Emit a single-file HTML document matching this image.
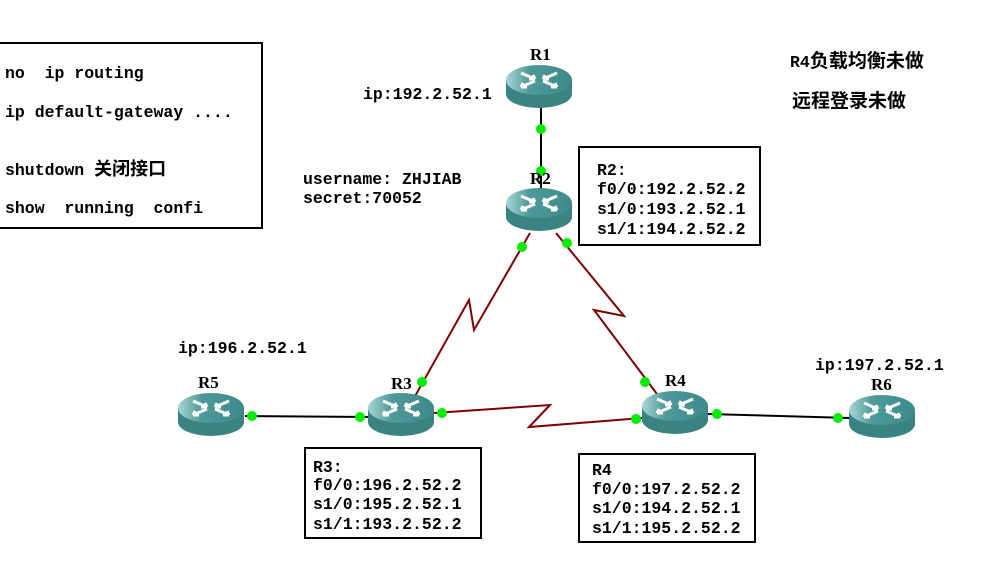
<!DOCTYPE html>
<html><head><meta charset="utf-8"><style>
body{margin:0;background:#fff;width:986px;height:559px;overflow:hidden}
svg text{font-family:"Liberation Mono","Noto Sans CJK SC",monospace;font-size:16.5px;font-weight:bold;fill:#000;white-space:pre}
svg text.r{font-family:"Liberation Serif",serif;font-size:17px}
</style></head><body>
<svg width="986" height="559" viewBox="0 0 986 559" xmlns="http://www.w3.org/2000/svg">
<defs>
<linearGradient id="tg" x1="0" y1="0" x2="1" y2="0">
<stop offset="0" stop-color="#a9d6d6"/><stop offset="0.35" stop-color="#4e9a9a"/><stop offset="1" stop-color="#3e8a8a"/>
</linearGradient>
<g id="rt">
<path d="M-33,0 L-33,14 A33,14 0 0 0 33,14 L33,0 Z" fill="#3a8383"/>
<ellipse cx="0" cy="0" rx="33" ry="15" fill="url(#tg)"/>
<g stroke="#fff" stroke-width="3" fill="none">
<path d="M-18,-7 L-4,-1 M-4,-1 l-6,0 M-4,-1 l-2,-4"/>
<path d="M18,-7 L4,-1 M4,-1 l6,0 M4,-1 l2,-4"/>
<path d="M-18,7 L-4,1 M-18,7 l6,0 M-18,7 l2,-4"/>
<path d="M18,7 L4,1 M18,7 l-6,0 M18,7 l-2,-4"/>
</g>
</g>
</defs>
<g stroke="#000" stroke-width="2">
<line x1="541" y1="105" x2="541" y2="195"/>
<line x1="245" y1="416" x2="370" y2="417"/>
<line x1="708" y1="414" x2="850" y2="418"/>
</g>
<g stroke="#800000" stroke-width="2" fill="none">
<polyline points="414,398 469,300 474,330 530,233"/>
<polyline points="556,233 624,316 594,310 660,398"/>
<polyline points="434,413 550,405 529,427 642,418"/>
</g>
<use href="#rt" x="539" y="80"/>
<use href="#rt" x="539" y="203"/>
<use href="#rt" x="211" y="408"/>
<use href="#rt" x="401" y="408"/>
<use href="#rt" x="675" y="406"/>
<use href="#rt" x="882" y="410"/>
<g fill="#00ee00">
<circle cx="541" cy="129" r="5"/><circle cx="541" cy="171" r="5"/>
<circle cx="522" cy="247" r="5"/><circle cx="567" cy="243" r="5"/>
<circle cx="422" cy="382" r="5"/><circle cx="645" cy="382" r="5"/>
<circle cx="442" cy="413" r="5"/><circle cx="636" cy="419" r="5"/>
<circle cx="252" cy="416" r="5"/><circle cx="360" cy="417" r="5"/>
<circle cx="717" cy="414" r="5"/><circle cx="838" cy="418" r="5"/>
</g>
<text class="r" x="530" y="60">R1</text>
<text class="r" x="530" y="184">R2</text>
<text class="r" x="198" y="388">R5</text>
<text class="r" x="391" y="389">R3</text>
<text class="r" x="665" y="386">R4</text>
<text class="r" x="871" y="390">R6</text>
<g fill="none" stroke="#000" stroke-width="2">
<rect x="-2" y="43" width="264" height="185"/>
<rect x="579" y="147" width="181" height="98"/>
<rect x="305" y="448" width="176" height="90"/>
<rect x="579" y="454" width="176" height="88"/>
</g>
<text x="5" y="78">no  ip routing</text>
<text x="5" y="117">ip default-gateway ....</text>
<text x="5" y="175">shutdown <tspan style="font-size:18px">关闭接口</tspan></text>
<text x="5" y="213">show  running  confi</text>
<text x="597" y="175">R2:</text>
<text x="597" y="194">f0/0:192.2.52.2</text>
<text x="597" y="214">s1/0:193.2.52.1</text>
<text x="597" y="234">s1/1:194.2.52.2</text>
<text x="313" y="472">R3:</text>
<text x="313" y="490">f0/0:196.2.52.2</text>
<text x="313" y="509">s1/0:195.2.52.1</text>
<text x="313" y="529">s1/1:193.2.52.2</text>
<text x="592" y="475">R4</text>
<text x="592" y="494">f0/0:197.2.52.2</text>
<text x="592" y="513">s1/0:194.2.52.1</text>
<text x="592" y="533">s1/1:195.2.52.2</text>
<text x="363" y="99">ip:192.2.52.1</text>
<text x="303" y="184">username: ZHJIAB</text>
<text x="303" y="203">secret:70052</text>
<text x="178" y="353">ip:196.2.52.1</text>
<text x="815" y="370">ip:197.2.52.1</text>
<text x="790" y="67">R4<tspan style="font-size:19px">负载均衡未做</tspan></text>
<text x="792" y="107" style="font-size:19px">远程登录未做</text>
</svg>
</body></html>
